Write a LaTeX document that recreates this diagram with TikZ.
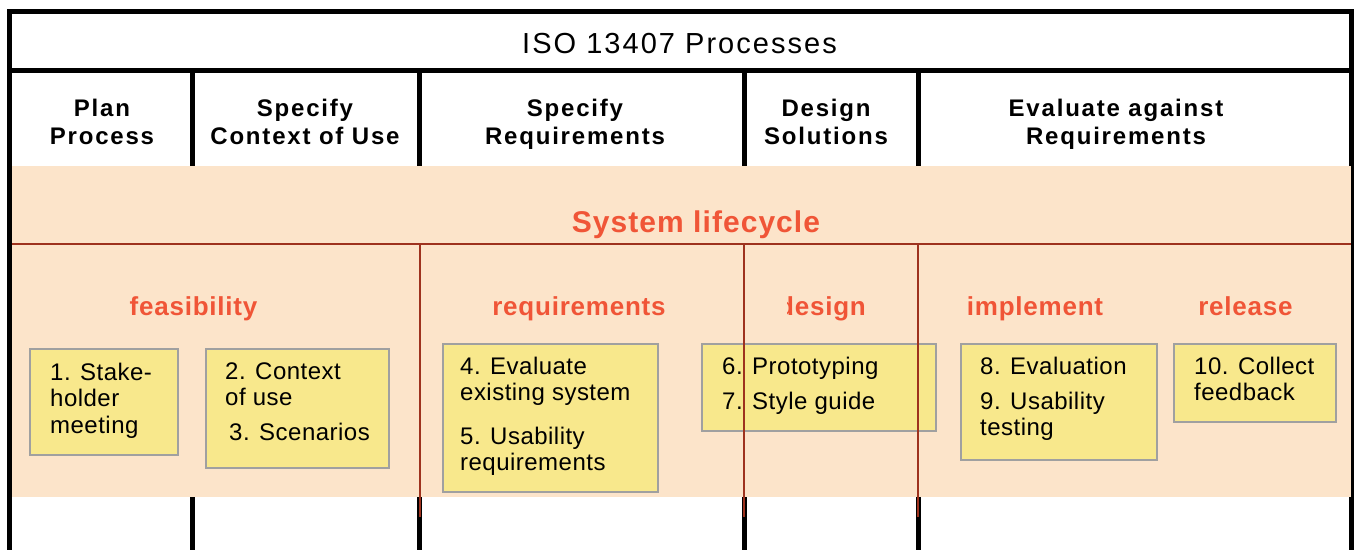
\documentclass[tikz,border=0pt]{standalone}
\usepackage{fontspec}
\setmainfont{Liberation Sans}
\definecolor{peach}{RGB}{252,228,202}
\definecolor{rust}{RGB}{158,50,30}
\definecolor{phase}{RGB}{240,85,55}
\definecolor{note}{RGB}{248,232,140}
\definecolor{noteedge}{RGB}{160,160,160}
\begin{document}
\begin{tikzpicture}[x=1pt,y=-1pt,
  frame/.style={line width=5pt, black},
  rustline/.style={line width=2pt, rust},
  titletext/.style={font=\fontsize{29}{33}\selectfont\addfontfeature{LetterSpace=7}, inner sep=0pt, anchor=base},
  hdr/.style={font=\fontsize{24}{28.5}\selectfont\bfseries\addfontfeature{LetterSpace=7.5}, align=center, inner sep=0pt, anchor=north},
  lifecycle/.style={font=\fontsize{30}{34}\selectfont\bfseries\addfontfeature{LetterSpace=3.5}, text=phase, inner sep=0pt, anchor=base},
  phaselbl/.style={font=\fontsize{26}{30}\selectfont\bfseries\addfontfeature{LetterSpace=3}, text=phase, inner sep=0pt, anchor=base},
  notebox/.style={draw=noteedge, fill=note, line width=2.5pt, outer sep=0pt, inner sep=0pt, anchor=north west},
  notetext/.style={font=\fontsize{24}{26.5}\selectfont\addfontfeature{LetterSpace=2}, align=left, inner sep=0pt, anchor=north west}]
\useasboundingbox (0,0) rectangle (1354,550);
% frame
\draw[frame] (9.5,11.5) rectangle (1351,70);
\foreach \xx in {9.5,192,419.5,744,918,1351}{
  \draw[frame] (\xx,70) -- (\xx,550);
}
% band
\fill[peach] (12,165.5) rectangle (1350.5,497);
\draw[rustline] (12,244.3) -- (1350.5,244.3);
% title and headers
\node[titletext] (title) at (679.5,53.5) {ISO 13407 Processes};
\node[hdr] (h1) at (102,98.5) {Plan\\Process};
\node[hdr] (h2) at (305,98.5) {Specify\\Context of Use};
\node[hdr] (h3) at (575,98.5) {Specify\\Requirements};
\node[hdr] (h4) at (826,98.5) {Design\\Solutions};
\node[hdr] (h5) at (1116,98.5) {Evaluate against\\Requirements};
\node[lifecycle] (life) at (696,232.7) {System lifecycle};
% phases
\node[phaselbl] (pfeas) at (193.5,315) {feasibility};
\node[phaselbl] (preq) at (579,315) {requirements};
\node[phaselbl] (pdes) at (822,315) {design};
\fill[peach] (pdes.south west) ++(-2,4) rectangle (786.5,290);
\node[phaselbl] (pimp) at (1035,315) {implement};
\node[phaselbl] (prel) at (1245.5,315) {release};
% note boxes
\node[notebox, minimum width=148pt, minimum height=106pt] (b1) at (30,349) {};
\node[notebox, minimum width=183pt, minimum height=119pt] (b2) at (206,349) {};
\node[notebox, minimum width=215pt, minimum height=148pt] (b3) at (443,344) {};
\node[notebox, minimum width=234pt, minimum height=87pt] (b4) at (702,344) {};
\node[notebox, minimum width=196pt, minimum height=116pt] (b5) at (961,344) {};
\node[notebox, minimum width=162pt, minimum height=78pt] (b6) at (1174,344) {};
% note texts
\node[notetext] (t1) at (50,362.5) {1. Stake-\\holder\\meeting};
\node[notetext] (t2) at (225,362.5) {2. Context\\of use};
\node[notetext] (t3) at (229,422.5) {3. Scenarios};
\node[notetext] (t4) at (460,356.5) {4. Evaluate\\existing system};
\node[notetext] (t5) at (460,426.5) {5. Usability\\requirements};
\node[notetext] (t6) at (722,356.5) {6. Prototyping};
\node[notetext] (t7) at (722,391.5) {7. Style guide};
\node[notetext] (t8) at (980,356.5) {8. Evaluation};
\node[notetext] (t9) at (980,391.5) {9. Usability\\testing};
\node[notetext] (t10) at (1194,356.5) {10. Collect\\feedback};
% rust verticals over boxes
\foreach \xx in {419.5,744.3,917.5}{
  \draw[rustline] (\xx,244.3) -- (\xx,516.5);
}
\end{tikzpicture}
\end{document}
